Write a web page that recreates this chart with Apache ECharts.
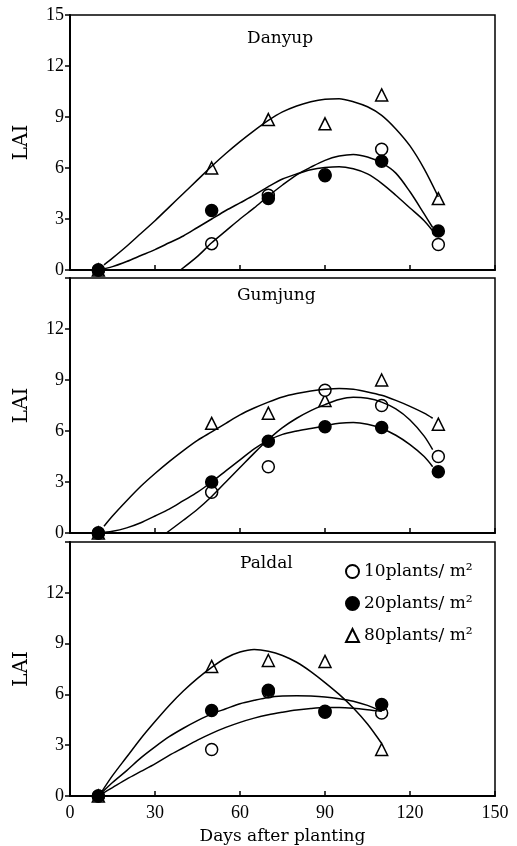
<!DOCTYPE html>
<html>
<head>
<meta charset="utf-8">
<script src="https://cdn.jsdelivr.net/npm/echarts@6/dist/echarts.min.js"></script>
<style>
  html, body { margin: 0; padding: 0; background: #fff; }
  #chart { width: 517px; height: 846px; }
</style>
</head>
<body>
<div id="chart"></div>
<script>
// 数据: 三个品种, 三种密度
const days = [10, 50, 70, 90, 110, 130]
const daysPaldal = [10, 50, 70, 90, 110]
const xTicks = [0, 30, 60, 90, 120, 150]
const yTicks = [0, 3, 6, 9, 12, 15]
const panelNames = ['Danyup', 'Gumjung', 'Paldal']
const seriesNames = ['10plants/ m²', '20plants/ m²', '80plants/ m²']

const danyup10 = [0, 1.55, 4.4, 5.6, 7.1, 1.5]
const danyup20 = [0, 3.5, 4.2, 5.55, 6.4, 2.3]
const danyup80 = [0, 6.0, 8.85, 8.6, 10.3, 4.2]

const gumjung10 = [0, 2.4, 3.9, 8.4, 7.5, 4.5]
const gumjung20 = [0, 3.0, 5.4, 6.25, 6.2, 3.6]
const gumjung80 = [0, 6.45, 7.05, 7.8, 9.0, 6.4]

const paldal10 = [0, 2.75, 6.15, 5.0, 4.9]
const paldal20 = [0, 5.05, 6.25, 4.95, 5.4]
const paldal80 = [0, 7.65, 8.0, 7.95, 2.75]

// 拟合曲线 (从图上读取, 每5天一点)
const danyupFit10 = [[39, 0], [45, 0.8], [50, 1.6], [55, 2.3], [60, 3.0], [65, 3.65], [70, 4.35], [75, 5.0], [80, 5.6], [85, 6.05], [90, 6.45], [95, 6.7], [100, 6.8], [105, 6.65], [110, 6.3], [115, 5.7], [120, 4.6], [125, 3.3], [128, 2.5]]
const danyupFit20 = [[10, 0], [15, 0.2], [20, 0.5], [25, 0.85], [30, 1.2], [35, 1.6], [40, 2.0], [45, 2.5], [50, 3.0], [55, 3.5], [60, 3.95], [65, 4.4], [70, 4.9], [75, 5.35], [80, 5.65], [85, 5.9], [90, 6.03], [95, 6.08], [100, 5.95], [105, 5.65], [110, 5.1], [115, 4.4], [120, 3.65], [125, 2.9], [128, 2.3]]
const danyupFit80 = [[12, 0.3], [15, 0.7], [20, 1.4], [25, 2.15], [30, 2.9], [35, 3.7], [40, 4.5], [45, 5.3], [50, 6.1], [55, 6.85], [60, 7.55], [65, 8.2], [70, 8.8], [75, 9.3], [80, 9.65], [85, 9.9], [90, 10.05], [95, 10.08], [100, 9.9], [105, 9.6], [110, 9.1], [115, 8.3], [120, 7.3], [125, 5.95], [130, 4.3]]

const gumjungFit10 = [[34, 0], [40, 0.75], [45, 1.4], [50, 2.15], [55, 3.0], [60, 3.85], [65, 4.7], [70, 5.5], [75, 6.2], [80, 6.75], [85, 7.2], [90, 7.55], [95, 7.85], [100, 7.98], [105, 7.92], [110, 7.7], [115, 7.3], [120, 6.65], [125, 5.7], [128, 4.9]]
const gumjungFit20 = [[10, 0], [15, 0.1], [20, 0.3], [25, 0.6], [30, 1.0], [35, 1.4], [40, 1.9], [45, 2.4], [50, 3.0], [55, 3.65], [60, 4.3], [65, 4.95], [70, 5.45], [75, 5.8], [80, 6.0], [85, 6.15], [90, 6.3], [95, 6.45], [100, 6.5], [105, 6.4], [110, 6.15], [115, 5.75], [120, 5.2], [125, 4.5], [128, 3.9]]
const gumjungFit80 = [[12, 0.4], [15, 1.0], [20, 1.9], [25, 2.75], [30, 3.5], [35, 4.2], [40, 4.85], [45, 5.45], [50, 5.95], [55, 6.45], [60, 6.95], [65, 7.35], [70, 7.7], [75, 8.0], [80, 8.2], [85, 8.35], [90, 8.45], [95, 8.5], [100, 8.45], [105, 8.3], [110, 8.1], [115, 7.8], [120, 7.45], [125, 7.05], [128, 6.75]]

const paldalFit10 = [[11, 0.1], [15, 0.5], [20, 1.0], [25, 1.45], [30, 1.9], [35, 2.4], [40, 2.85], [45, 3.3], [50, 3.7], [55, 4.05], [60, 4.35], [65, 4.6], [70, 4.8], [75, 4.95], [80, 5.08], [85, 5.17], [90, 5.22], [95, 5.22], [100, 5.18], [105, 5.1], [110, 5.0]]
const paldalFit20 = [[10, 0], [15, 0.8], [20, 1.5], [25, 2.25], [30, 2.9], [35, 3.5], [40, 4.0], [45, 4.45], [50, 4.85], [55, 5.15], [60, 5.45], [65, 5.65], [70, 5.82], [75, 5.9], [80, 5.92], [85, 5.9], [90, 5.85], [95, 5.75], [100, 5.6], [105, 5.35], [110, 5.0]]
const paldalFit80 = [[11, 0.2], [15, 1.2], [20, 2.3], [25, 3.4], [30, 4.4], [35, 5.35], [40, 6.2], [45, 6.95], [50, 7.6], [55, 8.15], [60, 8.5], [65, 8.65], [70, 8.55], [75, 8.3], [80, 7.9], [85, 7.35], [90, 6.7], [95, 6.0], [100, 5.2], [105, 4.25], [110, 3.1]]

const panels = [
  { x: days, pts: [danyup10, danyup20, danyup80], fits: [danyupFit10, danyupFit20, danyupFit80] },
  { x: days, pts: [gumjung10, gumjung20, gumjung80], fits: [gumjungFit10, gumjungFit20, gumjungFit80] },
  { x: daysPaldal, pts: [paldal10, paldal20, paldal80], fits: [paldalFit10, paldalFit20, paldalFit80] }
]

const numFont = 'Liberation Serif'
const textFont = 'DejaVu Serif'
const gridTops = [15, 278, 542]
const gridH = 255

let chart = echarts.init(document.getElementById('chart'))

let grids = []
let xAxes = []
let yAxes = []
let series = []

panels.forEach(function (p, i) {
  grids.push({
    left: 70,
    right: 22,
    top: gridTops[i],
    height: gridH,
    show: true,
    borderColor: '#000',
    borderWidth: 1.5
  })
  xAxes.push({
    type: 'value',
    gridIndex: i,
    min: xTicks[0],
    max: xTicks[xTicks.length - 1],
    interval: 30,
    name: i === 2 ? 'Days after planting' : '',
    nameLocation: 'middle',
    nameGap: 32,
    nameTextStyle: { color: '#000', fontSize: 17, fontFamily: textFont },
    axisLine: { lineStyle: { color: '#000', width: 2 } },
    axisTick: { inside: true, length: 5, lineStyle: { color: '#000', width: 1.5 } },
    axisLabel: { show: i === 2, color: '#000', fontSize: 18, fontFamily: numFont, margin: 8 },
    splitLine: { show: false }
  })
  yAxes.push({
    type: 'value',
    gridIndex: i,
    min: yTicks[0],
    max: yTicks[yTicks.length - 1],
    interval: 3,
    name: 'LAI',
    nameLocation: 'middle',
    nameRotate: 90,
    nameGap: 38,
    nameTextStyle: { color: '#000', fontSize: 20, fontFamily: textFont },
    axisLine: { lineStyle: { color: '#000', width: 2 } },
    axisTick: { length: 5, lineStyle: { color: '#000', width: 1.5 } },
    axisLabel: {
      color: '#000',
      fontSize: 18,
      fontFamily: numFont,
      margin: 6,
      formatter: function (v) {
        return (i > 0 && v === 15) ? '' : String(v)
      }
    },
    splitLine: { show: false }
  })
  // 拟合曲线
  p.fits.forEach(function (f, k) {
    series.push({
      name: 'fit' + i + k,
      type: 'line',
      xAxisIndex: i,
      yAxisIndex: i,
      data: f,
      smooth: 0.3,
      showSymbol: false,
      silent: true,
      lineStyle: { color: '#000', width: 1.5 }
    })
  })
  // 散点: 三角, 空心圆, 实心圆
  const styles = [
    { symbol: 'circle', color: '#fff' },
    { symbol: 'circle', color: '#000' },
    { symbol: 'triangle', color: '#fff' }
  ]
  ;[2, 0, 1].forEach(function (k) {
    series.push({
      name: seriesNames[k],
      type: 'scatter',
      xAxisIndex: i,
      yAxisIndex: i,
      symbol: styles[k].symbol,
      symbolSize: 12,
      itemStyle: { color: styles[k].color, borderColor: '#000', borderWidth: 1.5, opacity: 1 },
      data: p.x.map(function (d, j) { return [d, p.pts[k][j]] })
    })
  })
})

chart.setOption({
  animation: false,
  backgroundColor: '#fff',
  grid: grids,
  xAxis: xAxes,
  yAxis: yAxes,
  legend: {
    data: seriesNames,
    orient: 'vertical',
    left: 340,
    top: 558,
    itemGap: 15,
    itemWidth: 13,
    itemHeight: 13,
    textStyle: { color: '#000', fontSize: 17, fontFamily: textFont }
  },
  graphic: panelNames.map(function (n, i) {
    return {
      type: 'text',
      left: [247, 237, 240][i],
      top: [30, 287, 555][i],
      style: { text: n, fill: '#000', font: '17px ' + textFont }
    }
  }),
  series: series
})
</script>
</body>
</html>
